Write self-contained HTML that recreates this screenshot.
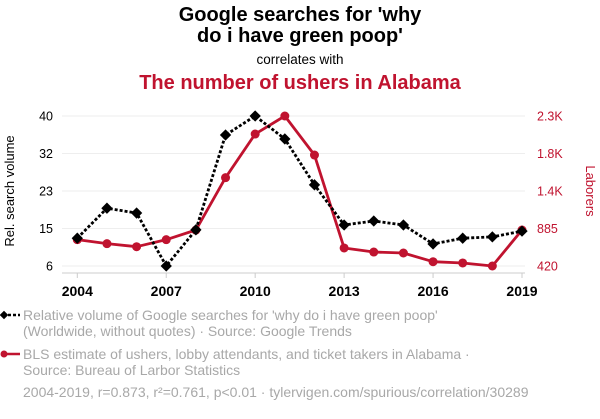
<!DOCTYPE html>
<html><head><meta charset="utf-8"><style>
body{margin:0;background:#fff}
svg text{font-family:"Liberation Sans",sans-serif}
</style></head><body>
<svg width="600" height="414" viewBox="0 0 600 414" xmlns="http://www.w3.org/2000/svg">
<text x="300" y="21" text-anchor="middle" font-size="20" font-weight="bold" fill="#000">Google searches for 'why</text>
<text x="300" y="42" text-anchor="middle" font-size="20" font-weight="bold" fill="#000">do i have green poop'</text>
<text x="300" y="64" text-anchor="middle" font-size="13.5" fill="#000">correlates with</text>
<text x="300" y="89" text-anchor="middle" font-size="20" font-weight="bold" fill="#c0132f">The number of ushers in Alabama</text>
<g id="grid"></g>
<g id="axes"></g>
<g id="series"></g>
<text transform="translate(14,191) rotate(-90)" text-anchor="middle" font-size="13" fill="#000">Rel. search volume</text>
<text transform="translate(586,191) rotate(90)" text-anchor="middle" font-size="13" fill="#c0132f">Laborers</text>
<g>
<line x1="3" y1="315" x2="20" y2="315" stroke="#000" stroke-width="2.5" stroke-dasharray="3,2"/>
<rect x="1" y="312" width="6" height="6" transform="rotate(45 4 315)" fill="#000"/>
<text x="23" y="320" font-size="14" fill="#a8a8a8">Relative volume of Google searches for 'why do i have green poop'</text>
<text x="23" y="336" font-size="14" fill="#a8a8a8">(Worldwide, without quotes) · Source: Google Trends</text>
</g>
<g>
<line x1="3" y1="354" x2="20" y2="354" stroke="#c0132f" stroke-width="2.5"/>
<circle cx="4" cy="354" r="3.5" fill="#c0132f"/>
<text x="23" y="359" font-size="14" fill="#a8a8a8">BLS estimate of ushers, lobby attendants, and ticket takers in Alabama ·</text>
<text x="23" y="375" font-size="14" fill="#a8a8a8">Source: Bureau of Larbor Statistics</text>
</g>
<text x="23" y="397" font-size="14" fill="#a8a8a8">2004-2019, r=0.873, r²=0.761, p&lt;0.01 · tylervigen.com/spurious/correlation/30289</text>
</svg>
<script>
const years=[2004,2005,2006,2007,2008,2009,2010,2011,2012,2013,2014,2015,2016,2017,2018,2019];
const searches=[12.3,19.1,18.0,6,14.2,35.7,40,34.8,24.4,15.3,16.2,15.3,11,12.3,12.6,13.9];
const ushers=[750,700,662,750,871,1527,2074,2300,1811,646,595,583,474,458,420,871];
const leftTicks=[40,31.5,23,14.5,6];
const leftLabels=["40","32","23","15","6"];
const rightTicks=[2300,1830,1360,890,420];
const rightLabels=["2.3K","1.8K","1.4K","885","420"];
const xTicks=[2004,2007,2010,2013,2016,2019];
const NS="http://www.w3.org/2000/svg";
const X=y=>77.3+(y-2004)*(522-77.3)/15;
const YL=v=>266-(v-6)/(40-6)*150;
const YR=v=>266-(v-420)/(2300-420)*150;
function mk(tag,attrs,parent,text){const e=document.createElementNS(NS,tag);for(const k in attrs)e.setAttribute(k,attrs[k]);if(text!==undefined)e.textContent=text;document.getElementById(parent).appendChild(e);return e;}
leftTicks.forEach((t,i)=>{
 const g=mk('line',{x1:62,x2:525,y1:YL(t),y2:YL(t),stroke:'#eeeeee','stroke-width':1},'grid');
 
 
 const l=mk('text',{x:53,y:YL(t)+4.5,'text-anchor':'end','font-size':12.5,fill:'#000'},'axes',leftLabels[i]);
 
 
});
rightTicks.forEach((t,i)=>{
 const l=mk('text',{x:537,y:YR(t)+4.5,'font-size':12.5,fill:'#c0132f'},'axes',rightLabels[i]);
 
 
});
const ax=mk('line',{x1:62,x2:525,y1:273,y2:273,stroke:'#ccc','stroke-width':1},'axes');


xTicks.forEach(t=>{
 const tk=mk('line',{x1:X(t),x2:X(t),y1:273,y2:278,stroke:'#ccc'},'axes');
 
 
 const l=mk('text',{x:X(t),y:296,'text-anchor':'middle','font-size':14,'font-weight':'bold',fill:'#000'},'axes',String(t));
 
 
});
const rp=mk('polyline',{points:years.map((y,i)=>X(y)+','+YR(ushers[i])).join(' '),fill:'none',stroke:'#c0132f','stroke-width':2.8,'stroke-linejoin':'round'},'series');


const bp=mk('polyline',{points:years.map((y,i)=>X(y)+','+YL(searches[i])).join(' '),fill:'none',stroke:'#000','stroke-width':2.8,'stroke-dasharray':'3,2'},'series');


years.forEach((y,i)=>{
 const c=mk('circle',{cx:X(y),cy:YR(ushers[i]),r:4.5,fill:'#c0132f'},'series');
 
 
});
years.forEach((y,i)=>{
 const cx=X(y),cy=YL(searches[i]);
 const d=mk('rect',{x:cx-4,y:cy-4,width:8,height:8,fill:'#000',transform:`rotate(45 ${cx} ${cy})`},'series');
 
 
});
</script>
</body></html>
